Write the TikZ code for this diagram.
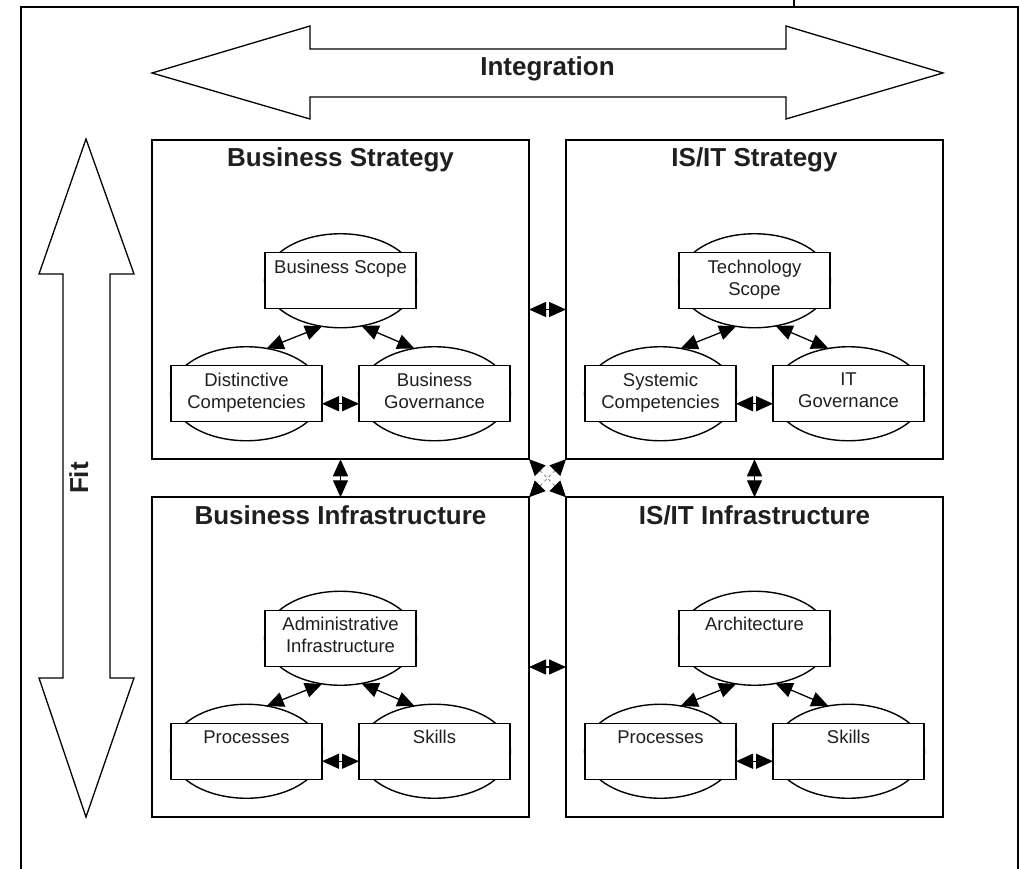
\documentclass[tikz,border=0pt]{standalone}
\usepackage{fontspec}
\setmainfont{Liberation Sans}
\usetikzlibrary{arrows.meta,shapes.geometric}
\definecolor{txt}{gray}{0.12}
\newcommand{\mkblock}[8]{%
  \node[box] (#1) at (#2,#3) {};
  \node[ttl] (#1-ttl) at ([yshift=-27pt]#1.north) {#4};
  \node[ell] (#1-te) at ([yshift=-141pt]#1.north) {};
  \node[rbox] (#1-tr) at (#1-te) {};
  \node[lbl] (#1-tt) at ([yshift=-7pt]#1-tr.north) {#5};
  \node[ell] (#1-le) at ([xshift=-94pt,yshift=-254pt]#1.north) {};
  \node[rbox] (#1-lr) at (#1-le) {};
  \node[lbl] (#1-lt) at ([yshift=-7pt]#1-lr.north) {#6};
  \node[ell] (#1-re) at ([xshift=94pt,yshift=-254pt]#1.north) {};
  \node[rbox] (#1-rr) at (#1-re) {};
  \node[lbl] (#1-rt) at ([yshift=-7pt]#1-rr.north) {#7};
  \draw[dbl] (#1-le.66) -- (#1-te.248);
  \draw[dbl] (#1-te.295) -- (#1-re.114);
  \draw[dbl] ([yshift=-10pt]#1-lr.east) -- ([yshift=-10pt]#1-rr.west);
}
\begin{document}
\begin{tikzpicture}[x=1pt,y=-1pt,
  box/.style={rectangle, draw, line width=1.8pt, minimum width=377pt, minimum height=319.5pt, inner sep=0pt, outer sep=0pt},
  ell/.style={ellipse, draw, fill=white, line width=1.4pt, minimum width=152pt, minimum height=94pt, inner sep=0pt, outer sep=0pt},
  rbox/.style={rectangle, draw, fill=white, line width=1.4pt, minimum width=151pt, minimum height=56pt, inner sep=0pt, outer sep=0pt},
  lbl/.style={anchor=north, inner sep=0pt, align=center, text=txt, font=\fontsize{18.5}{22}\selectfont},
  ttl/.style={anchor=base, inner sep=0pt, text=txt, font=\fontsize{26}{30}\selectfont\bfseries},
  dbl/.style={{Triangle[length=17pt,width=15pt]}-{Triangle[length=17pt,width=15pt]}, line width=1.3pt},
  diag/.style={{Triangle[length=16pt,width=15pt,color=black]}-{Triangle[length=16pt,width=15pt,color=black]}, line width=0.8pt, gray, dashed},
  big/.style={draw, line width=1.3pt, line join=miter, fill=white},
  frame/.style={line width=1.2pt}]
\useasboundingbox (0,0) rectangle (1019,869);
\clip (0,0) rectangle (1019,869);
\fill[white] (0,0) rectangle (1019,869);
% frame
\draw[frame] (21,880) -- (21,7) -- (1018,7) -- (1018,880);
\draw[frame] (794,0) -- (794,7);
% Integration arrow
\draw[big] (152,73) -- (310,26) -- (310,49) -- (786,49) -- (786,26) -- (943,73)
  -- (786,119) -- (786,97) -- (310,97) -- (310,119) -- cycle;
\node[ttl] (integ) at (547.5,76) {Integration};
% Fit arrow
\draw[big] (86,139) -- (134,274) -- (110,274) -- (110,678) -- (134,678) -- (86,817)
  -- (39,678) -- (63,678) -- (63,274) -- (39,274) -- cycle;
\node[ttl, rotate=90] (fit) at (88,478) {Fit};
% blocks
\mkblock{bs}{340.5}{299.5}{Business Strategy}{Business Scope}{Distinctive\\Competencies}{Business\\Governance}{}
\mkblock{iss}{754.5}{299.5}{IS/IT Strategy}{Technology\\Scope}{Systemic\\Competencies}{IT\\Governance}{}
\mkblock{bi}{340.5}{657}{Business Infrastructure}{Administrative\\Infrastructure}{Processes}{Skills}{}
\mkblock{isi}{754.5}{657}{IS/IT Infrastructure}{Architecture}{Processes}{Skills}{}
% links between blocks
\draw[dbl] ([yshift=-10pt]bs.east) -- ([yshift=-10pt]iss.west);
\draw[dbl] ([yshift=-10pt]bi.east) -- ([yshift=-10pt]isi.west);
\draw[dbl] (bs.south) -- (bi.north);
\draw[dbl] (iss.south) -- (isi.north);
\draw[diag] (bs.south east) -- (isi.north west);
\draw[diag] (iss.south west) -- (bi.north east);
\end{tikzpicture}
\end{document}
